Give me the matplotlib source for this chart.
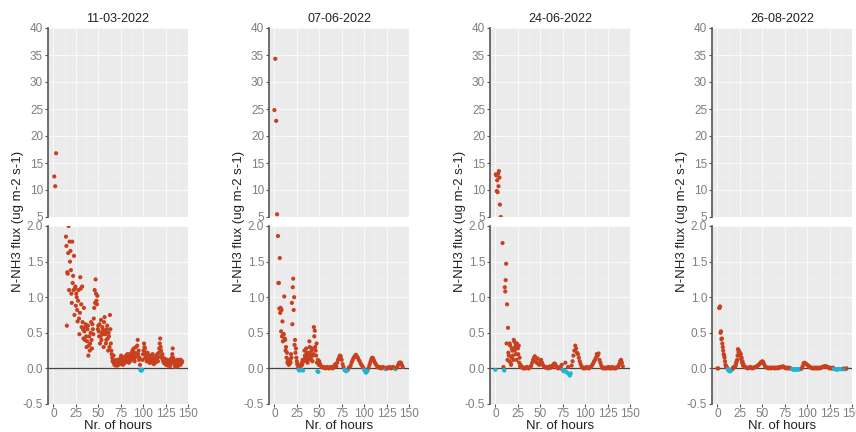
import numpy as np
import matplotlib
matplotlib.use('Agg')
import matplotlib.pyplot as plt
from matplotlib.ticker import MultipleLocator, FormatStrFormatter

plt.rcParams['font.family'] = ['Liberation Sans', 'DejaVu Sans']

W, H = 856, 432
RED = '#C9401F'
CYAN = '#1FB4D6'

titles = ['11-03-2022', '07-06-2022', '24-06-2022', '26-08-2022']

# flux values (ug m-2 s-1), hourly series plus a second, offset series
p1_start, p1_vals = 1, [
    12.5, 10.7, 16.8, 4.6, 4.1, 3.7, 3.3, 3.0, 2.8, 2.6, 2.4, 2.3, 2.1,
    1.85, 0.60, 1.33, 2.00, 1.78, 1.65, 1.05, 1.78, 1.30, 1.58, 1.12, 0.88, 1.00, 0.66, 1.10, 0.48,
    1.28, 0.90, 1.15, 0.55, 0.85, 0.40, 0.62, 0.30, 0.55, 0.18, 0.45, 0.35, 0.65, 0.28, 0.55, 0.70,
    1.10, 1.25, 0.95, 1.02, 0.60, 0.45, 0.35, 0.68, 0.50, 0.55, 0.30, 0.72, 0.48, 0.40, 0.60, 0.25,
    0.45, 0.75, 0.35, 0.20, 0.10, 0.18, 0.05, 0.08, 0.06,
    0.10, 0.05, 0.12, 0.08, 0.15, 0.06, 0.10, 0.14, 0.07, 0.12, 0.18, 0.10, 0.16, 0.08, 0.20, 0.12,
    0.15, 0.25, 0.18, 0.12, 0.22, 0.30, 0.18, 0.40, 0.25, 0.15, -0.02, -0.03, -0.02, 0.20, 0.35, 0.28,
    0.18, 0.10, 0.22, 0.15, 0.08, 0.12, 0.18, 0.10, 0.14, 0.06, 0.10, 0.15, 0.12, 0.20, 0.16, 0.28,
    0.42, 0.25, 0.18, 0.12, 0.08, 0.14, 0.10, 0.05, 0.12, 0.06, 0.10, 0.03, 0.08, 0.15, 0.28, 0.12,
    0.06, 0.02, 0.08, 0.12, 0.05, 0.10, 0.06, 0.12, 0.08]
p1b_start, p1b_vals = 14.5, [
    1.72, 1.35, 1.62, 1.10, 1.50, 1.38, 0.92, 1.20, 1.10, 0.75, 1.15, 1.05, 0.82, 0.95, 0.70, 0.78,
    1.12, 0.58, 0.65, 0.42, 0.52, 0.58, 0.45, 0.38, 0.60, 0.32, 0.25, 0.50, 0.40, 0.62, 0.48, 0.85,
    0.92, 1.05, 0.90, 0.55, 0.52, 0.62, 0.45, 0.40, 0.58, 0.48, 0.65, 0.52, 0.35, 0.55, 0.42, 0.50,
    0.30, 0.55, 0.25, 0.15, 0.12, 0.08, 0.10, 0.04,
    0.12, 0.04, 0.09, 0.06, 0.11, 0.18, 0.08, 0.05, 0.12, 0.16, 0.09, 0.14, 0.20, 0.12, 0.15, 0.10,
    0.18, 0.22, 0.15, 0.28, 0.10, 0.16, 0.20, 0.32, 0.20, 0.12, 0.05, -0.03, -0.02, 0.12, 0.25, 0.30,
    0.15, 0.22, 0.14, 0.10, 0.18, 0.12, 0.08, 0.15, 0.20, 0.10, 0.12, 0.08, 0.18, 0.14, 0.10, 0.22,
    0.35, 0.30, 0.15, 0.20, 0.10, 0.12, 0.06, 0.08, 0.10, 0.04, 0.08, 0.12, 0.06, 0.10, 0.20, 0.15,
    0.08, 0.04, 0.10, 0.06, 0.03, 0.08, 0.12, 0.05, 0.09, 0.10]

p2_start, p2_vals = 0, [
    24.8, 34.3, 22.8, 5.5, 1.86, 1.20, 1.55, 0.85, 0.82, 0.66, 0.48, 1.01, 0.40, 0.30, 0.22, 0.10,
    0.05, 0.12, 0.08, 0.15, 0.62, 1.26, 1.00, 0.40, 0.28, 0.10, 0.05, -0.02, -0.03, 0.02, -0.02, 0.05,
    -0.03, 0.10, 0.18, 0.12, 0.22, 0.08, 0.15, 0.38, 0.20, 0.12, 0.28, 0.18, 0.58, 0.53, 0.25, 0.35,
    -0.04, -0.05,
    0.10, 0.06, 0.03, 0.02, 0.01, 0.02, 0.01, 0.00, 0.01, 0.02, 0.01, 0.00, 0.01, 0.02, 0.01, 0.00,
    0.02, 0.04, 0.06, 0.03, 0.08, 0.12, 0.15, 0.18, 0.17, 0.12, 0.06, 0.02, -0.02, -0.03, -0.04, -0.03,
    -0.02, 0.01, 0.02, 0.04, 0.08, 0.11, 0.14, 0.16, 0.18, 0.19, 0.17, 0.15, 0.12, 0.10, 0.07, 0.05,
    0.03, 0.01, -0.02, -0.04, -0.06, -0.05, -0.03, 0.01, 0.05, 0.09, 0.13, 0.15, 0.14, 0.11, 0.08, 0.06,
    0.04, 0.02, 0.01, 0.02, 0.01, 0.00, 0.01, 0.02, 0.01, 0.00, -0.01, 0.01, 0.00, 0.01, 0.02, 0.01,
    0.00, 0.01, 0.02, 0.01, 0.00, -0.01, 0.01, 0.02, 0.05, 0.08, 0.08, 0.08, 0.05, 0.02]
p2b_start, p2b_vals = 4.5, [
    1.20, 0.84, 0.78, 0.52, 0.45, 0.38, 0.48, 0.42, 0.25, 0.15, 0.08, 0.12, 0.06, 0.10, 0.20, 0.92,
    1.14, 0.82, 0.33, 0.22, 0.15, 0.06, 0.01, -0.01, 0.03, 0.05, 0.08, 0.12, 0.10, 0.25, 0.15, 0.28,
    0.18, 0.12, 0.22, 0.30, 0.15, 0.25, 0.10, 0.20, 0.45, 0.30, 0.18, 0.08, 0.12, 0.05]

p3_start, p3_vals = 0, [
    -0.02, 12.7, 11.8, 13.0, 13.5, 7.3, 5.0, 2.5, 1.76, 0.02, -0.03, 1.08, 1.47, 0.90, 0.57, 0.18,
    0.35, 0.08, 0.15, 0.25, 0.12, 0.38, 0.30, 0.20, 0.35, 0.28, 0.32, 0.15, 0.05, 0.03, 0.01, 0.00,
    0.01, 0.00, 0.01, 0.02, 0.01, 0.00, 0.01, 0.02, 0.04, 0.08, 0.12, 0.15, 0.17, 0.10, 0.08, 0.14,
    0.06, 0.05, 0.10, 0.12, 0.08, 0.05, 0.03, 0.02, 0.01, 0.02, 0.01, 0.00, 0.02, 0.03, 0.01, 0.02,
    0.04, 0.06, 0.07, 0.05, 0.02, 0.01, 0.00, 0.01, 0.02, 0.00, 0.05, -0.02, -0.04, -0.03, 0.08, -0.05,
    -0.06, 0.02, -0.08, -0.10, -0.07, 0.04, 0.10, 0.18, 0.25, 0.32, 0.28, 0.22, 0.20, 0.15, 0.10, 0.06,
    0.03, 0.01, 0.00, 0.01, 0.00, 0.01, 0.02, 0.01, 0.00, 0.01, 0.02, 0.03, 0.05, 0.07, 0.10, 0.12,
    0.15, 0.20, 0.18, 0.21, 0.12, 0.08, 0.04, 0.01, 0.00, 0.01, 0.00, 0.01, 0.00, 0.01, 0.02, 0.00,
    0.01, 0.00, 0.02, 0.01, 0.00, 0.01, 0.00, 0.01, 0.02, 0.03, 0.06, 0.10, 0.12, 0.08, 0.03]
p3b_start, p3b_vals = 0.5, [
    12.9, 9.8, 9.6, 10.7, 12.3, 3.5, 2.4, 2.2, 2.1, -0.02, 1.14, 1.24, 0.35, 0.12, 0.22, 0.10,
    0.32, 0.05, 0.28, 0.18, 0.40, 0.25, 0.35, 0.12, 0.30, 0.20, 0.08, 0.03]

p4_start, p4_vals = 0, [
    0.00, 0.00, 0.85, 0.87, 0.52, 0.42, 0.30, 0.20, 0.15, 0.05, 0.02, 0.01, -0.02, -0.03, -0.04, -0.03,
    -0.02, 0.00, 0.01, 0.02, 0.03, 0.08, 0.12, 0.27, 0.25, 0.22, 0.20, 0.15, 0.10, 0.06, 0.03, 0.02,
    0.01, 0.01, 0.00, 0.01, 0.01, 0.02, 0.01, 0.00, 0.01, 0.01, 0.02, 0.02, 0.03, 0.04, 0.05, 0.06,
    0.08, 0.09, 0.10, 0.09, 0.06, 0.03, 0.02, 0.01, 0.01, 0.00, 0.01, 0.01, 0.00, 0.01, 0.01, 0.01,
    0.00, 0.01, 0.01, 0.00, 0.01, 0.02,
    0.01, 0.02, 0.02, 0.03, 0.02, 0.01, 0.01, 0.00, 0.01, 0.00, 0.01, 0.00, 0.00, -0.01, -0.01, -0.02,
    -0.01, -0.02, -0.01, -0.01, -0.02, -0.01, -0.01, -0.01, 0.00, 0.03, 0.07, 0.08, 0.07, 0.06, 0.05, 0.04,
    0.03, 0.02, 0.01, 0.01, 0.00, 0.01, 0.00, 0.01, 0.00, 0.01, 0.00, 0.01, 0.00, 0.01, 0.01, 0.02,
    0.02, 0.03, 0.03, 0.03, 0.02, 0.02, 0.01, 0.00, 0.01, 0.00, 0.00, 0.01, -0.01, -0.01, -0.01, -0.02,
    -0.01, -0.01, -0.01, -0.01, -0.01, -0.01, -0.01, 0.00, -0.01, -0.01, 0.00]
p4b_start, p4b_vals = 2.5, [
    0.85, 0.50, 0.41, 0.35, 0.25, 0.18, 0.10, 0.03, 0.01, -0.01, -0.03, -0.04, -0.03, -0.02, -0.01, 0.00,
    0.02, 0.02, 0.05, 0.10, 0.18, 0.23, 0.18, 0.21, 0.13, 0.08, 0.04]

panels = [
    [(p1_start, p1_vals), (p1b_start, p1b_vals)],
    [(p2_start, p2_vals), (p2b_start, p2b_vals)],
    [(p3_start, p3_vals), (p3b_start, p3b_vals)],
    [(p4_start, p4_vals), (p4b_start, p4b_vals)],
]

lefts = [48, 269, 490, 712]
PW = 140
UP_TOP, UP_BOT = 28, 217
LO_TOP, LO_BOT = 226, 404


def style(ax, lower):
    ax.set_facecolor('#EBEBEB')
    ax.set_axisbelow(True)
    for s in ['top', 'right', 'bottom']:
        ax.spines[s].set_visible(False)
    ax.spines['left'].set_color('#555555')
    ax.spines['left'].set_linewidth(1.2)
    ax.grid(which='major', color='#FAFAFA', lw=0.7)
    ax.grid(which='minor', color='#F4F4F4', lw=0.35)
    ax.xaxis.set_major_locator(MultipleLocator(25))
    ax.xaxis.set_minor_locator(MultipleLocator(12.5))
    ax.tick_params(which='minor', length=0)
    ax.tick_params(axis='both', which='major', labelsize=8.5, labelcolor='#7F7F7F',
                   color='#555555', length=2.5, width=0.8, pad=1)
    ax.set_xlim(-6, 150)
    if not lower:
        ax.tick_params(axis='x', which='both', length=0, labelbottom=False)


fig = plt.figure(figsize=(W / 100, H / 100), dpi=100)

for i, (title, series) in enumerate(zip(titles, panels)):
    x0 = lefts[i] / W
    w = PW / W
    ax_up = fig.add_axes([x0, 1 - UP_BOT / H, w, (UP_BOT - UP_TOP) / H])
    ax_lo = fig.add_axes([x0, 1 - LO_BOT / H, w, (LO_BOT - LO_TOP) / H])
    style(ax_up, False)
    style(ax_lo, True)

    for start, vals in series:
        v = np.array(vals)
        h = start + np.arange(len(v))
        cols = np.where(v < 0, CYAN, RED)
        for ax in (ax_up, ax_lo):
            ax.scatter(h, v, s=9, c=cols, linewidths=0, zorder=3)

    ax_up.set_ylim(5, 40)
    ax_up.yaxis.set_major_locator(MultipleLocator(5))
    ax_up.yaxis.set_minor_locator(MultipleLocator(2.5))
    ax_lo.set_ylim(-0.5, 2.0)
    ax_lo.yaxis.set_major_locator(MultipleLocator(0.5))
    ax_lo.yaxis.set_minor_locator(MultipleLocator(0.25))
    ax_lo.yaxis.set_major_formatter(FormatStrFormatter('%.1f'))
    ax_lo.tick_params(axis='x', pad=0.5)
    ax_lo.axhline(0, color='#444444', lw=0.9, zorder=2)

    ax_up.set_title(title, fontsize=9, color='#222222', pad=4)
    ax_lo.set_xlabel('Nr. of hours', fontsize=9.5, color='#222222', labelpad=0)
    fig.text((lefts[i] - 30) / W, 1 - 221 / H, 'N-NH3 flux (ug m-2 s-1)',
             rotation=90, ha='center', va='center', fontsize=9.5, color='#222222')

fig.savefig('out.png', dpi=100)
